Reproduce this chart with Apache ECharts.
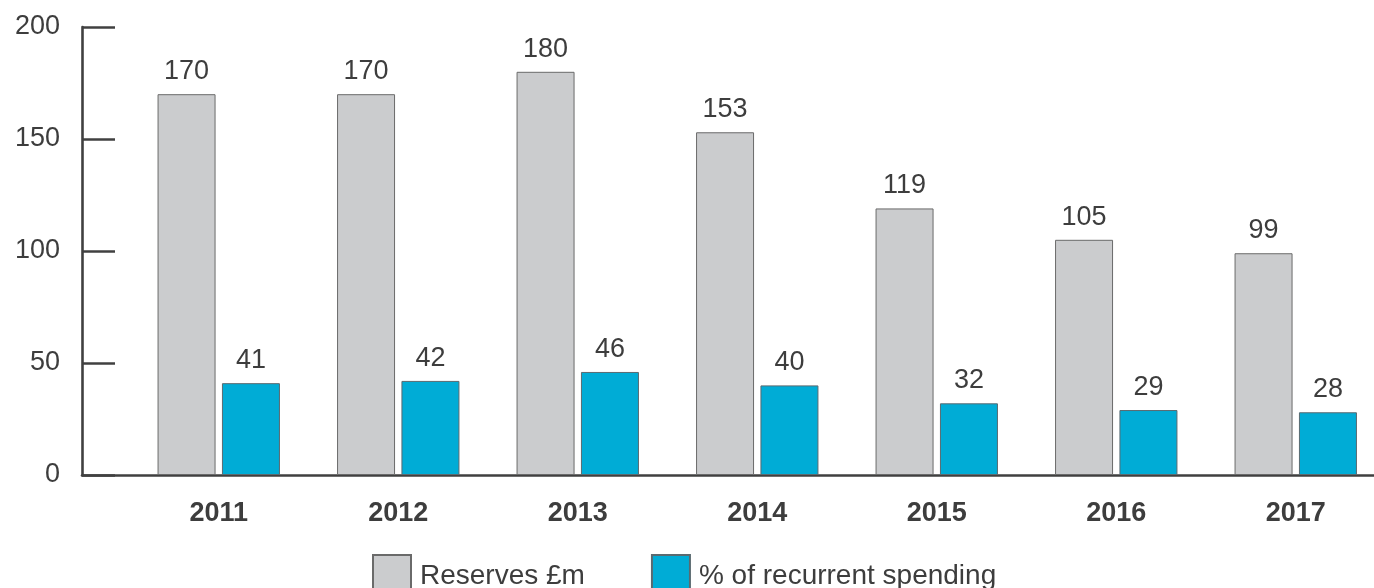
<!DOCTYPE html>
<html>
<head>
<meta charset="utf-8">
<script src="https://cdn.jsdelivr.net/npm/echarts@6/dist/echarts.min.js"></script>
<style>
  html, body { margin: 0; padding: 0; background: #fff; }
  #chart { width: 1374px; height: 588px; }
</style>
</head>
<body>
<div id="chart"></div>
<script>
// chart data
var years = ['2011', '2012', '2013', '2014', '2015', '2016', '2017'];
var reserves = [170, 170, 180, 153, 119, 105, 99];
var recurrent = [41, 42, 46, 40, 32, 29, 28];
var seriesNames = ['Reserves £m', '% of recurrent spending'];

var textColor = '#3d3d3d';
var axisColor = '#404040';
var font = '"Liberation Sans", Arial, Helvetica, sans-serif';

var chart = echarts.init(document.getElementById('chart'));

chart.setOption({
  animation: false,
  textStyle: { fontFamily: font },
  grid: [
    // bars (runs a little past the right edge, like the original)
    { left: 129, width: 1256.5, top: 27, bottom: 113, outerBoundsMode: 'none' },
    // frame grid, holds the visible y axis and the long x axis line
    { left: 82, right: 0, top: 27, bottom: 113, outerBoundsMode: 'none' }
  ],
  legend: {
    left: 372,
    top: 554,
    padding: 0,
    icon: 'rect',
    itemWidth: 38,
    itemHeight: 42,
    itemGap: 66,
    textStyle: { color: textColor, fontSize: 28, fontFamily: font, padding: [0, 0, 0, 4] },
    data: seriesNames
  },
  xAxis: [
    {
      type: 'category',
      gridIndex: 0,
      data: years,
      axisLine: { show: false },
      axisTick: { show: false },
      axisLabel: {
        color: textColor,
        fontWeight: 'bold',
        fontSize: 27,
        margin: 25,
        fontFamily: font
      }
    },
    {
      type: 'value',
      gridIndex: 1,
      min: 0,
      max: 1,
      axisLine: { show: true, lineStyle: { color: axisColor, width: 2.6 } },
      axisTick: { show: false },
      axisLabel: { show: false },
      splitLine: { show: false }
    }
  ],
  yAxis: [
    {
      type: 'value',
      gridIndex: 0,
      min: 0,
      max: 200,
      interval: 50,
      show: false
    },
    {
      type: 'value',
      gridIndex: 1,
      min: 0,
      max: 200,
      interval: 50,
      axisLine: { show: true, lineStyle: { color: axisColor, width: 2.6 } },
      axisTick: { show: true, inside: true, length: 33, lineStyle: { color: axisColor, width: 2.6 } },
      axisLabel: { color: textColor, fontSize: 27, margin: 22, fontFamily: font, padding: [4, 0, 0, 0] },
      splitLine: { show: false }
    }
  ],
  series: [
    {
      name: seriesNames[0],
      type: 'bar',
      xAxisIndex: 0,
      yAxisIndex: 0,
      data: reserves,
      barWidth: 58,
      barGap: '11%',
      itemStyle: { color: '#cbccce', borderColor: '#6a6a6a', borderWidth: 1 },
      label: { show: true, position: 'top', distance: 9, color: textColor, fontSize: 27, fontFamily: font }
    },
    {
      name: seriesNames[1],
      type: 'bar',
      xAxisIndex: 0,
      yAxisIndex: 0,
      data: recurrent,
      barWidth: 58,
      itemStyle: { color: '#00acd6', borderColor: '#5a6a70', borderWidth: 1 },
      label: { show: true, position: 'top', distance: 9, color: textColor, fontSize: 27, fontFamily: font }
    }
  ]
});
</script>
</body>
</html>
